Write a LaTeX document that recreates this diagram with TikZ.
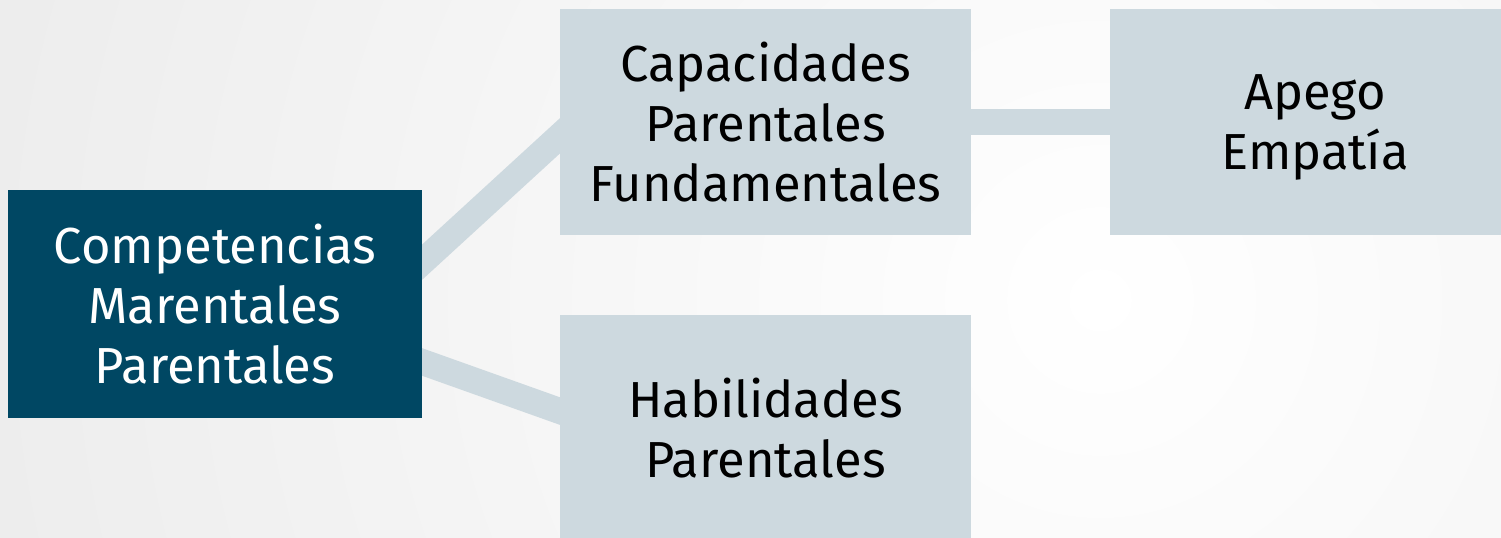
\documentclass[tikz,border=0pt]{standalone}
\usepackage{fontspec}
\setmainfont{Fira Sans}
\usetikzlibrary{backgrounds}
\definecolor{darkteal}{HTML}{004763}
\definecolor{lightbox}{HTML}{CDD9DF}
\definecolor{bggray}{HTML}{DADADA}
\begin{document}
\begin{tikzpicture}[x=0.75pt,y=-0.75pt,
  mainbox/.style={fill=darkteal,text=white,inner sep=0pt,align=center,
    minimum width=310.5pt,minimum height=171pt,font=\fontsize{38}{45}\selectfont},
  subbox/.style={fill=lightbox,text=black,inner sep=0pt,align=center,
    minimum width=308.25pt,minimum height=169.5pt,font=\fontsize{38}{45}\selectfont},
  boxtext/.style={text=black,inner sep=0pt,align=center,font=\fontsize{38}{45}\selectfont},
  conn/.style={draw=lightbox,line width=19.5pt,line cap=butt,shorten <=-12pt,shorten >=-12pt}]
\useasboundingbox (0,0) rectangle (1501,537);
\node[mainbox] (main) at (215,304) {Competencias\\Marentales\\Parentales};
\node[subbox] (cap) at (765.5,122) {Capacidades\\Parentales\\Fundamentales};
\node[subbox] (hab) at (765.5,428) {Habilidades\\Parentales};
\node[subbox,minimum width=307.5pt] (apego) at (1315,122) {};
\node[boxtext] (apegotext) at (1315,127) {Apego\\Empatía};
\begin{pgfonlayer}{background}
  \begin{scope}
    \clip (0,0) rectangle (1501,537);
    \shade[inner color=white,outer color=bggray] (1100,300) circle (2300);
  \end{scope}
  \draw[conn] ([yshift=31.5pt]main.east) -- ([yshift=-10.5pt]cap.west);
  \draw[conn] ([yshift=-43.5pt]main.east) -- ([yshift=12.75pt]hab.west);
  \draw[conn] (cap.east) -- (apego.west);
\end{pgfonlayer}
\end{tikzpicture}
\end{document}
